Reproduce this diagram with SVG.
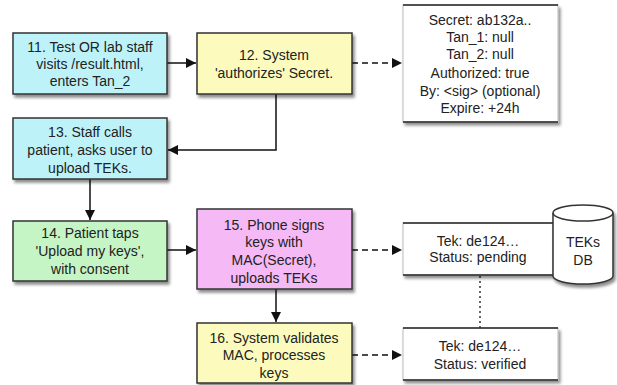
<svg xmlns="http://www.w3.org/2000/svg" width="617" height="385" viewBox="0 0 617 385">
<defs>
<filter id="sh" x="-10%" y="-10%" width="130%" height="140%">
<feDropShadow dx="2" dy="3" stdDeviation="1.5" flood-color="#000" flood-opacity="0.45"/>
</filter>
<marker id="ah" viewBox="0 0 10 10" refX="10" refY="5" markerWidth="10" markerHeight="10" markerUnits="userSpaceOnUse" orient="auto">
<path d="M0,0 L10,5 L0,10 z" fill="#111"/>
</marker>
<style>
.box{stroke:#333;stroke-width:1.5;filter:url(#sh)}
.cyan{fill:#bdf3f8}
.yel{fill:#fcfbbd}
.grn{fill:#c5f4c5}
.pink{fill:#f5b9f5}
.rec{fill:#fff;stroke:#bbb;stroke-width:1;filter:url(#sh)}
.rl{stroke:#222;stroke-width:1.5}
text{font-family:"Liberation Sans",Arial,sans-serif;font-size:14px;fill:#222;text-anchor:middle}
.c{fill:none;stroke:#111;stroke-width:1.5}
.d{stroke-dasharray:6,4}
.dot{fill:none;stroke:#333;stroke-width:1.5;stroke-dasharray:2,3}
</style>
</defs>

<g id="connectors">
<path class="c" d="M167,63 L196,63" marker-end="url(#ah)"/>
<path class="c d" d="M352,63 L402,63" marker-end="url(#ah)"/>
<path class="c" d="M276,94 L276,150 L168,150" marker-end="url(#ah)"/>
<path class="c" d="M90,179 L90,220" marker-end="url(#ah)"/>
<path class="c" d="M167,250 L196,250" marker-end="url(#ah)"/>
<path class="c d" d="M352,250 L402,250" marker-end="url(#ah)"/>
<path class="c" d="M276,289 L276,322" marker-end="url(#ah)"/>
<path class="c d" d="M352,355 L402,355" marker-end="url(#ah)"/>
<path class="dot" d="M480,276 L480,328"/>
</g>

<g id="n11">
<rect class="box cyan" x="13" y="33" width="154" height="61"/>
<text x="90" y="52">11. Test OR lab staff</text>
<text x="90" y="69">visits /result.html,</text>
<text x="90" y="86">enters Tan_2</text>
</g>

<g id="n12">
<rect class="box yel" x="197" y="33" width="155" height="61"/>
<text x="274" y="60">12. System</text>
<text x="274" y="78">'authorizes' Secret.</text>
</g>

<g id="secret">
<rect class="rec" x="403" y="5" width="155" height="117"/>
<line class="rl" x1="403" y1="5" x2="558" y2="5"/>
<line class="rl" x1="403" y1="122" x2="558" y2="122"/>
<text x="480" y="25">Secret: ab132a..</text>
<text x="480" y="42">Tan_1: null</text>
<text x="480" y="59">Tan_2: null</text>
<text x="480" y="78">Authorized: true</text>
<text x="480" y="96">By: &lt;sig&gt; (optional)</text>
<text x="480" y="113">Expire: +24h</text>
</g>

<g id="n13">
<rect class="box cyan" x="13" y="118" width="154" height="61"/>
<text x="90" y="137">13. Staff calls</text>
<text x="90" y="155">patient, asks user to</text>
<text x="90" y="173">upload TEKs.</text>
</g>

<g id="n14">
<rect class="box grn" x="13" y="221" width="154" height="60"/>
<text x="90" y="238">14. Patient taps</text>
<text x="90" y="256">'Upload my keys',</text>
<text x="90" y="274">with consent</text>
</g>

<g id="n15">
<rect class="box pink" x="197" y="209" width="155" height="80"/>
<text x="274" y="230">15. Phone signs</text>
<text x="274" y="247">keys with</text>
<text x="274" y="265">MAC(Secret),</text>
<text x="274" y="283">uploads TEKs</text>
</g>

<g id="tek1">
<rect class="rec" x="403" y="223" width="150" height="52"/>
<line class="rl" x1="403" y1="223" x2="553" y2="223"/>
<line class="rl" x1="403" y1="275" x2="553" y2="275"/>
<text x="478" y="246">Tek: de124…</text>
<text x="478" y="262">Status: pending</text>
</g>

<g id="db">
<path d="M553,213 L553,276 A30,8 0 0 0 613,276 L613,213 A30,8 0 0 0 553,213 z" fill="#fff" stroke="#333" stroke-width="1.5" filter="url(#sh)"/>
<path d="M553,213 A30,8 0 0 0 613,213" fill="none" stroke="#333" stroke-width="1.5"/>
<text x="583" y="247">TEKs</text>
<text x="583" y="265">DB</text>
</g>

<g id="n16">
<rect class="box yel" x="197" y="323" width="155" height="60"/>
<text x="274" y="343">16. System validates</text>
<text x="274" y="360">MAC, processes</text>
<text x="274" y="378">keys</text>
</g>

<g id="tek2">
<rect class="rec" x="403" y="328" width="155" height="52"/>
<line class="rl" x1="403" y1="328" x2="558" y2="328"/>
<line class="rl" x1="403" y1="380" x2="558" y2="380"/>
<text x="480" y="351">Tek: de124…</text>
<text x="480" y="369">Status: verified</text>
</g>
</svg>
